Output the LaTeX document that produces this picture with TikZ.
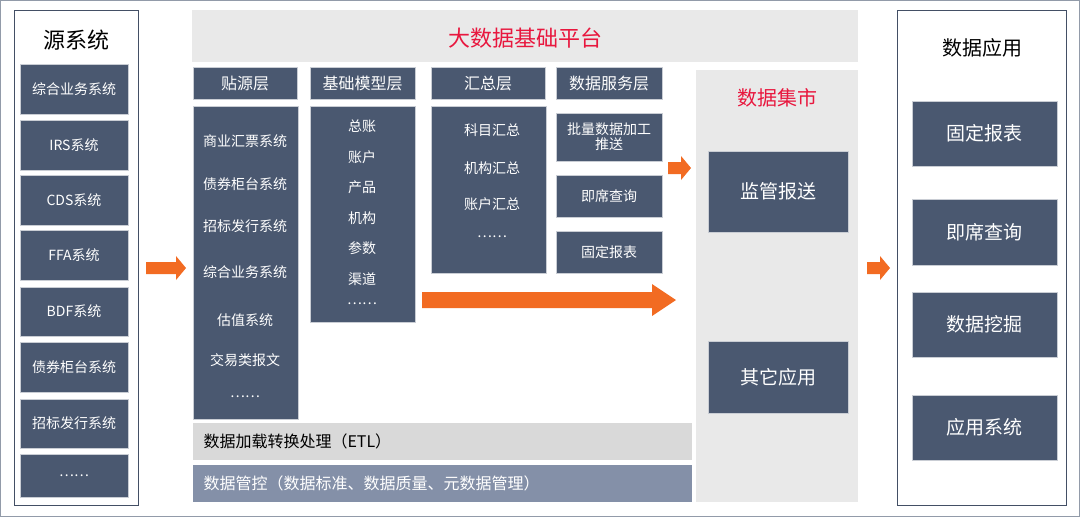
\documentclass[tikz,border=0pt]{standalone}
\usepackage{fontspec}
\setmainfont{Noto Sans CJK SC}
\definecolor{dk}{HTML}{4A5870}
\definecolor{lg}{HTML}{E9E9E9}
\definecolor{og}{HTML}{F26B22}
\definecolor{rd}{HTML}{E8173E}
\definecolor{bb}{HTML}{8490A8}
\definecolor{etl}{HTML}{D9D9D9}
\tikzset{x=1pt,y=-1pt,
 dbox/.style={fill=dk,draw=white!70!dk,line width=0.6pt,text=white,align=center,inner sep=0pt},
 oarrow/.style={fill=og,draw=none}}
\newcommand{\bx}[6]{\node[dbox,font=\fontsize{#5}{#5}\selectfont,minimum width=#3-#1,minimum height=#4-#2] (#6) at ({(#1+#3)/2},{(#2+#4)/2}) {};}
\newcommand{\smallarrow}[3]{\fill[og] (#1,#3-6)--(#2-10,#3-6)--(#2-10,#3-12)--(#2,#3)--(#2-10,#3+12)--(#2-10,#3+6)--(#1,#3+6)--cycle;}
\begin{document}
\begin{tikzpicture}
\useasboundingbox (0,0) rectangle (1080,517);
\draw[draw=dk!60,line width=1pt] (0.5,0.5) rectangle (1079.5,516.5);
% left
\draw[draw=dk!90!black,line width=1pt,fill=white] (14,10) rectangle (138,505);
\node[font=\fontsize{22}{22}\selectfont] (srct) at (76,40) {源系统};
\foreach \a/\b/\t [count=\i] in {64/114/综合业务系统,120/170/IRS系统,175/225/CDS系统,230/280/FFA系统,287/336/BDF系统,342/392/债券柜台系统,399/448/招标发行系统,454/497/……}{
 \node[dbox,font=\fontsize{14}{14}\selectfont,minimum width=108,minimum height=\b-\a] (s\i) at (74,{(\a+\b)/2}) {\t};}
\smallarrow{146}{186}{268}
% platform
\fill[lg] (192,10) rectangle (858,62);
\node[text=rd,font=\fontsize{22}{22}\selectfont] (plat) at (525,38) {大数据基础平台};
\foreach \l/\r/\t/\n in {193/297/贴源层/h1,310/415/基础模型层/h2,431/545/汇总层/h3,556/662/数据服务层/h4}{
 \node[dbox,font=\fontsize{16}{16}\selectfont,minimum width=\r-\l,minimum height=32] (\n) at ({(\l+\r)/2},83) {\t};}
\node[dbox,minimum width=105,minimum height=313] (c1) at (245.5,262.5) {};
\node[dbox,minimum width=105,minimum height=216] (c2) at (362.5,214) {};
\node[dbox,minimum width=115,minimum height=167] (c3) at (488.5,189.5) {};
\foreach \y/\t [count=\i] in {141/商业汇票系统,184/债券柜台系统,226/招标发行系统,272/综合业务系统,320/估值系统,360/交易类报文,397/……}
 \node[text=white,font=\fontsize{14}{14}\selectfont] (a\i) at (245,\y) {\t};
\foreach \y/\t [count=\i] in {126/总账,157/账户,187/产品,218/机构,248/参数,279/渠道,304/……}
 \node[text=white,font=\fontsize{14}{14}\selectfont] (b\i) at (362,\y) {\t};
\foreach \y/\t [count=\i] in {130/科目汇总,168/机构汇总,204/账户汇总,237/……}
 \node[text=white,font=\fontsize{14}{14}\selectfont] (d\i) at (492,\y) {\t};
\node[dbox,font=\fontsize{14}{15}\selectfont,minimum width=106,minimum height=48] (e1) at (609,137) {批量数据加工\\推送};
\node[dbox,font=\fontsize{14}{14}\selectfont,minimum width=106,minimum height=42] (e2) at (609,196) {即席查询};
\node[dbox,font=\fontsize{14}{14}\selectfont,minimum width=106,minimum height=42] (e3) at (609,252) {固定报表};
\fill[og] (422,292)--(652,292)--(652,284)--(676,300)--(652,316)--(652,308)--(422,308)--cycle;
\smallarrow{668}{691}{168}
\fill[etl] (193,423) rectangle (692,460);
\node[anchor=west,font=\fontsize{16}{16}\selectfont] (etlt) at (200,441.5) {数据加载转换处理（ETL）};
\fill[bb] (193,465) rectangle (692,502);
\node[anchor=west,text=white,font=\fontsize{16}{16}\selectfont] (gov) at (200,483.5) {数据管控（数据标准、数据质量、元数据管理）};
% mart
\fill[lg] (696,70) rectangle (858,502);
\node[text=rd,font=\fontsize{20}{20}\selectfont] (mart) at (777,98) {数据集市};
\node[dbox,font=\fontsize{19}{19}\selectfont,minimum width=140,minimum height=81] (m1) at (778,191.5) {监管报送};
\node[dbox,font=\fontsize{19}{19}\selectfont,minimum width=140,minimum height=72] (m2) at (778,377) {其它应用};
\smallarrow{867}{890}{268}
% right
\draw[draw=dk!90!black,line width=1pt,fill=white] (897,10) rectangle (1066,505);
\node[font=\fontsize{20}{20}\selectfont] (appt) at (982,48) {数据应用};
\foreach \a/\b/\t [count=\i] in {101/166/固定报表,199/265/即席查询,292/357/数据挖掘,395/460/应用系统}
 \node[dbox,font=\fontsize{19}{19}\selectfont,minimum width=145,minimum height=\b-\a] (r\i) at (984.5,{(\a+\b)/2}) {\t};
\end{tikzpicture}
\end{document}
